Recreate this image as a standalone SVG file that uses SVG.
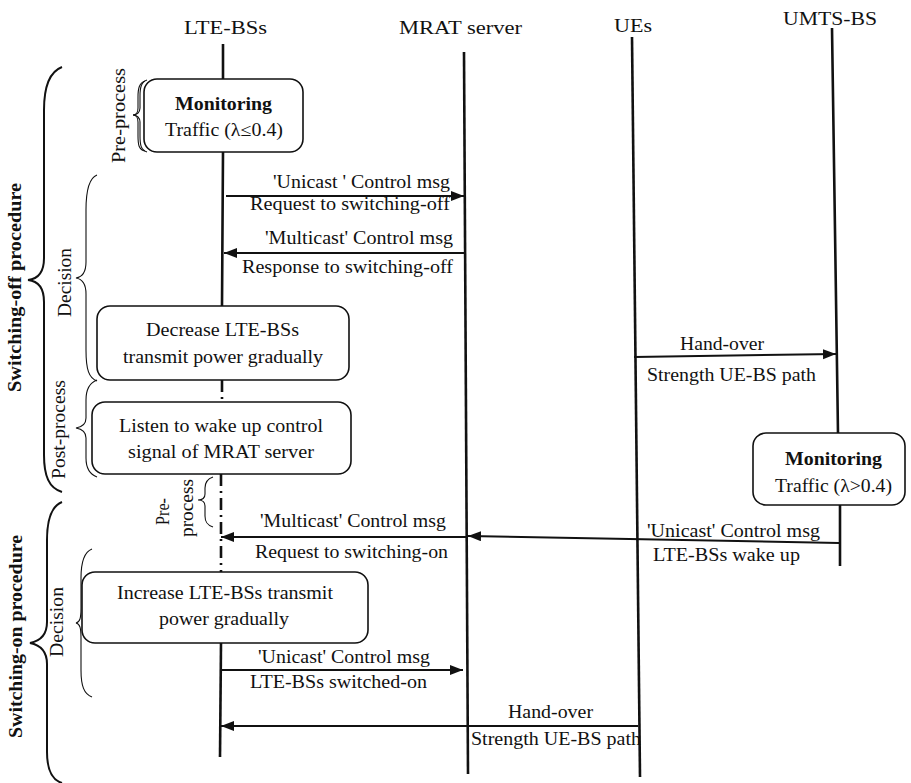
<svg xmlns="http://www.w3.org/2000/svg" width="911" height="783" viewBox="0 0 911 783">
<style>
text{font-family:"Liberation Serif","Times New Roman",serif;font-size:18px;fill:#111;}
.b{font-weight:bold;}
.life{stroke:#111;stroke-width:2.6;fill:none;}
.dd{stroke:#111;stroke-width:2.6;fill:none;stroke-dasharray:12 5 2 5;}
.box{fill:#fff;stroke:#111;stroke-width:1.6;}
.msg{stroke:#111;stroke-width:2;fill:none;marker-end:url(#ah);}
.br{stroke:#111;stroke-width:1.1;fill:none;}
.bb{stroke:#111;stroke-width:2;fill:none;}
</style>
<defs>
<marker id="ah" markerUnits="userSpaceOnUse" markerWidth="14" markerHeight="12" refX="13" refY="5" orient="auto">
<path d="M0,0 L13,5 L0,10 z" fill="#111"/>
</marker>
</defs>
<rect width="911" height="783" fill="#fff"/>

<g id="lte-bss">
<text x="184" y="34" textLength="83" lengthAdjust="spacingAndGlyphs">LTE-BSs</text>
<path class="life" d="M223,44 L223,80 M223,152 L222,306"/>
<path class="dd" d="M222,380 L222,402"/>
<path class="dd" d="M221,474 L221,572"/>
<path class="life" d="M221,643 L220,757"/>
</g>
<g id="mrat-server">
<text x="399" y="34" textLength="123" lengthAdjust="spacingAndGlyphs">MRAT server</text>
<path class="life" d="M464,52 L468,774"/>
</g>
<g id="ues">
<text x="614" y="32" textLength="38" lengthAdjust="spacingAndGlyphs">UEs</text>
<path class="life" d="M632,37 L640,777"/>
</g>
<g id="umts-bs">
<text x="783" y="25" textLength="94" lengthAdjust="spacingAndGlyphs">UMTS-BS</text>
<path class="life" d="M832,28 L838,433 M840,505 L840,566"/>
</g>

<g id="monitoring-lte">
<rect class="box" x="144" y="79" width="159" height="73" rx="13"/>
<text class="b" x="175" y="110" textLength="97" lengthAdjust="spacingAndGlyphs">Monitoring</text>
<text x="165" y="136" textLength="118" lengthAdjust="spacingAndGlyphs">Traffic (λ≤0.4)</text>
</g>
<g id="decrease">
<rect class="box" x="97" y="306" width="252" height="74" rx="13"/>
<text x="146" y="336" textLength="153" lengthAdjust="spacingAndGlyphs">Decrease LTE-BSs</text>
<text x="123" y="363" textLength="200" lengthAdjust="spacingAndGlyphs">transmit power gradually</text>
</g>
<g id="listen">
<rect class="box" x="92" y="402" width="259" height="72" rx="13"/>
<text x="119" y="432" textLength="204" lengthAdjust="spacingAndGlyphs">Listen to wake up control</text>
<text x="128" y="458" textLength="186" lengthAdjust="spacingAndGlyphs">signal of MRAT server</text>
</g>
<g id="increase">
<rect class="box" x="82" y="572" width="286" height="71" rx="13"/>
<text x="117" y="599" textLength="216" lengthAdjust="spacingAndGlyphs">Increase LTE-BSs transmit</text>
<text x="159" y="625" textLength="130" lengthAdjust="spacingAndGlyphs">power gradually</text>
</g>
<g id="monitoring-umts">
<rect class="box" x="753" y="433" width="152" height="72" rx="13"/>
<text class="b" x="785" y="465" textLength="97" lengthAdjust="spacingAndGlyphs">Monitoring</text>
<text x="775" y="492" textLength="117" lengthAdjust="spacingAndGlyphs">Traffic (λ&gt;0.4)</text>
</g>

<g id="phases">
<path class="bb" d="M62,67 C49,72 44,88 44,110 L44,258 C44,272 38,279 28,280 C38,281 44,288 44,302 L44,455 C44,476 49,488 62,492"/>
<text class="b" transform="translate(21,392) rotate(-90)" textLength="209" lengthAdjust="spacingAndGlyphs">Switching-off procedure</text>
<path class="bb" d="M62,502 C52,506 47,520 47,540 L47,622 C47,635 40,641 30,643 C40,645 47,651 47,664 L47,752 C47,770 52,780 62,783"/>
<text class="b" transform="translate(22,738) rotate(-90)" textLength="203" lengthAdjust="spacingAndGlyphs">Switching-on procedure</text>

<path class="br" d="M147,80 C141,82 140,88 140,96 L140,108 C140,112 137,115 133,115 C137,115 140,118 140,122 L140,136 C140,145 141,150 147,152"/>
<path class="br" d="M145,81 C139,83 138,89 138,97 L138,108 C138,112 136,115 133,115 C136,115 138,118 138,122 L138,136 C138,145 139,150 145,151"/>
<text transform="translate(125,163) rotate(-90)" textLength="95" lengthAdjust="spacingAndGlyphs">Pre-process</text>

<path class="br" d="M97,175 C89,178 86,190 86,210 L86,262 C86,272 82,277 76,278 C82,279 86,284 86,294 L86,350 C86,370 89,378 97,381"/>
<text transform="translate(71,317) rotate(-90)" textLength="69" lengthAdjust="spacingAndGlyphs">Decision</text>

<path class="br" d="M97,380 C89,383 86,390 86,400 L86,418 C86,424 82,427 76,428 C82,429 86,432 86,438 L86,458 C86,468 89,474 97,477"/>
<text transform="translate(65,479) rotate(-90)" textLength="99" lengthAdjust="spacingAndGlyphs">Post-process</text>

<path class="br" d="M213,477 C207,479 205,483 205,488 L205,494 C205,498 202,500 198,500 C202,500 205,502 205,506 L205,516 C205,522 207,525 213,527"/>
<text transform="translate(169,525) rotate(-90)" textLength="27" lengthAdjust="spacingAndGlyphs">Pre-</text>
<text transform="translate(193,537) rotate(-90)" textLength="58" lengthAdjust="spacingAndGlyphs">process</text>

<path class="br" d="M92,549 C84,552 81,562 81,578 L81,608 C81,618 80,622 76,623 C80,624 81,628 81,638 L81,670 C81,686 84,694 92,697"/>
<text transform="translate(63,657) rotate(-90)" textLength="70" lengthAdjust="spacingAndGlyphs">Decision</text>
</g>

<g id="connectors">
<path class="msg" d="M226,196 L464,196"/>
<path class="msg" d="M465,253 L224,253"/>
<path class="msg" d="M634,357 L836,354"/>
<path class="msg" d="M839,543 L468,536"/>
<path class="msg" d="M466,537 L221,537"/>
<path class="msg" d="M222,670 L463,670"/>
<path class="msg" d="M638,726 L221,726"/>
</g>

<g id="labels">
<text x="273" y="188" textLength="177" lengthAdjust="spacingAndGlyphs">'Unicast ' Control msg</text>
<text x="250" y="210" textLength="200" lengthAdjust="spacingAndGlyphs">Request to switching-off</text>
<text x="265" y="244" textLength="188" lengthAdjust="spacingAndGlyphs">'Multicast' Control msg</text>
<text x="242" y="273" textLength="211" lengthAdjust="spacingAndGlyphs">Response to switching-off</text>
<text x="680" y="350" textLength="84" lengthAdjust="spacingAndGlyphs">Hand-over</text>
<text x="647" y="381" textLength="169" lengthAdjust="spacingAndGlyphs">Strength UE-BS path</text>
<text x="260" y="527" textLength="186" lengthAdjust="spacingAndGlyphs">'Multicast' Control msg</text>
<text x="255" y="558" textLength="193" lengthAdjust="spacingAndGlyphs">Request to switching-on</text>
<text x="647" y="537" textLength="173" lengthAdjust="spacingAndGlyphs">'Unicast' Control msg</text>
<text x="653" y="561" textLength="147" lengthAdjust="spacingAndGlyphs">LTE-BSs wake up</text>
<text x="258" y="663" textLength="172" lengthAdjust="spacingAndGlyphs">'Unicast' Control msg</text>
<text x="250" y="688" textLength="177" lengthAdjust="spacingAndGlyphs">LTE-BSs switched-on</text>
<text x="508" y="718" textLength="85" lengthAdjust="spacingAndGlyphs">Hand-over</text>
<text x="471" y="745" textLength="170" lengthAdjust="spacingAndGlyphs">Strength UE-BS path</text>
</g>
</svg>
